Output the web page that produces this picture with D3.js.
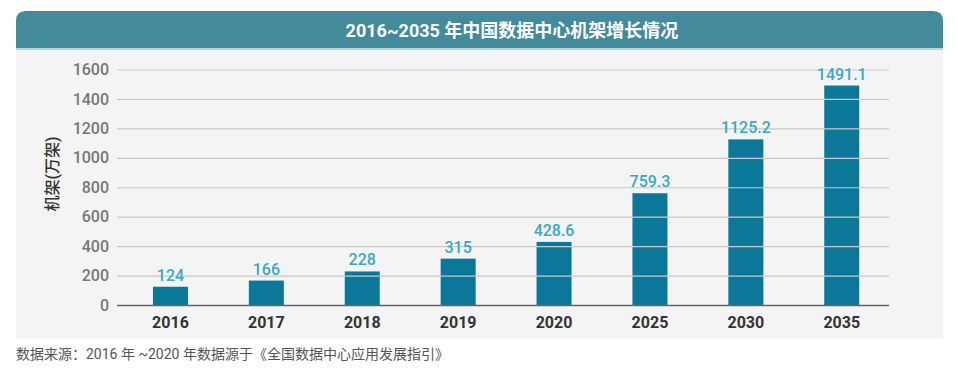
<!DOCTYPE html>
<html>
<head>
  <meta charset="utf-8">
  <script src="https://d3js.org/d3.v7.min.js"></script>
  <style>
    body { margin: 0; background: #fff; }
    text { font-family: Roboto, "Noto Sans CJK SC", sans-serif; }
  </style>
</head>
<body>
  <div id="chart"></div>
  <script>
    var years = ["2016", "2017", "2018", "2019", "2020", "2025", "2030", "2035"];
    var racks = [124, 166, 228, 315, 428.6, 759.3, 1125.2, 1491.1];
    var valueLabels = ["124", "166", "228", "315", "428.6", "759.3", "1125.2", "1491.1"];
    var yTicks = [0, 200, 400, 600, 800, 1000, 1200, 1400, 1600];

    var W = 958, H = 377;
    var svg = d3.select("#chart").append("svg")
      .attr("width", W).attr("height", H);

    // panel with rounded header
    var px0 = 16, px1 = 943, py0 = 11, py1 = 339, hh = 37, r = 10;
    svg.append("path")
      .attr("d", "M" + px0 + "," + py1 + "V" + (py0 + r) + "Q" + px0 + "," + py0 + " " + (px0 + r) + "," + py0 +
        "H" + (px1 - r) + "Q" + px1 + "," + py0 + " " + px1 + "," + (py0 + r) + "V" + py1 + "Z")
      .attr("fill", "#f4f4f4");
    svg.append("path")
      .attr("d", "M" + px0 + "," + (py0 + hh) + "V" + (py0 + r) + "Q" + px0 + "," + py0 + " " + (px0 + r) + "," + py0 +
        "H" + (px1 - r) + "Q" + px1 + "," + py0 + " " + px1 + "," + (py0 + r) + "V" + (py0 + hh) + "Z")
      .attr("fill", "#438a9b");
    svg.append("rect")
      .attr("x", px0).attr("y", py0 + hh).attr("width", px1 - px0).attr("height", 2)
      .attr("fill", "#b9d3da");

    svg.append("text")
      .attr("x", 512).attr("y", 37)
      .attr("text-anchor", "middle")
      .attr("fill", "#fff")
      .attr("font-size", 18).attr("font-weight", 700)
      .text("2016~2035 年中国数据中心机架增长情况");

    var x = d3.scaleBand()
      .domain(years)
      .range([122.5, 889.7])
      .paddingInner(0.635)
      .paddingOuter(0.3175);

    var y = d3.scaleLinear()
      .domain([0, 1600])
      .range([305, 69.5]);

    var gridX0 = 117, gridX1 = 889;

    // gridlines + y labels
    var yAxis = svg.append("g")
      .attr("transform", "translate(" + gridX0 + ",0)")
      .call(d3.axisLeft(y).tickValues(yTicks).tickFormat(d3.format("d"))
        .tickSize(-(gridX1 - gridX0)).tickPadding(8));
    yAxis.select(".domain").remove();
    yAxis.selectAll(".tick line")
      .attr("stroke", function(d) { return d === 0 ? "#666" : "#c9c9c9"; })
      .attr("stroke-width", function(d) { return d === 0 ? 1.6 : 1.2; });
    yAxis.selectAll(".tick text")
      .attr("fill", "#777")
      .attr("font-size", 16).attr("font-weight", 500)
      .attr("font-family", "Roboto, sans-serif");

    // bars
    svg.selectAll("rect.bar")
      .data(racks)
      .enter().append("rect")
      .attr("class", "bar")
      .attr("x", function(d, i) { return x(years[i]); })
      .attr("y", function(d) { return y(d); })
      .attr("width", x.bandwidth())
      .attr("height", function(d) { return y(0) - y(d); })
      .attr("fill", "#0b789a");

    yAxis.raise();
    yAxis.selectAll(".tick").filter(function(d) { return d !== 0; }).lower();

    // value labels
    svg.selectAll("text.val")
      .data(racks)
      .enter().append("text")
      .attr("class", "val")
      .attr("x", function(d, i) { return x(years[i]) + x.bandwidth() / 2; })
      .attr("y", function(d) { return y(d) - 6; })
      .attr("text-anchor", "middle")
      .attr("fill", "#3aa8c2")
      .attr("font-size", 16).attr("font-weight", 500)
      .text(function(d, i) { return valueLabels[i]; });

    // x labels
    var xAxis = svg.append("g")
      .attr("transform", "translate(0," + y(0) + ")")
      .call(d3.axisBottom(x).tickSize(0).tickPadding(12));
    xAxis.select(".domain").remove();
    xAxis.selectAll(".tick text")
      .attr("fill", "#333")
      .attr("font-size", 16).attr("font-weight", 700)
      .attr("font-family", "Roboto, sans-serif");

    // y title
    svg.append("text")
      .attr("transform", "translate(58,174) rotate(-90)")
      .attr("text-anchor", "middle")
      .attr("fill", "#333")
      .attr("font-size", 16).attr("font-weight", 500)
      .text("机架(万架)");

    // source note
    svg.append("text")
      .attr("x", 16).attr("y", 359)
      .attr("fill", "#555")
      .attr("font-size", 14)
      .text("数据来源：2016 年 ~2020 年数据源于《全国数据中心应用发展指引》");
  </script>
</body>
</html>
